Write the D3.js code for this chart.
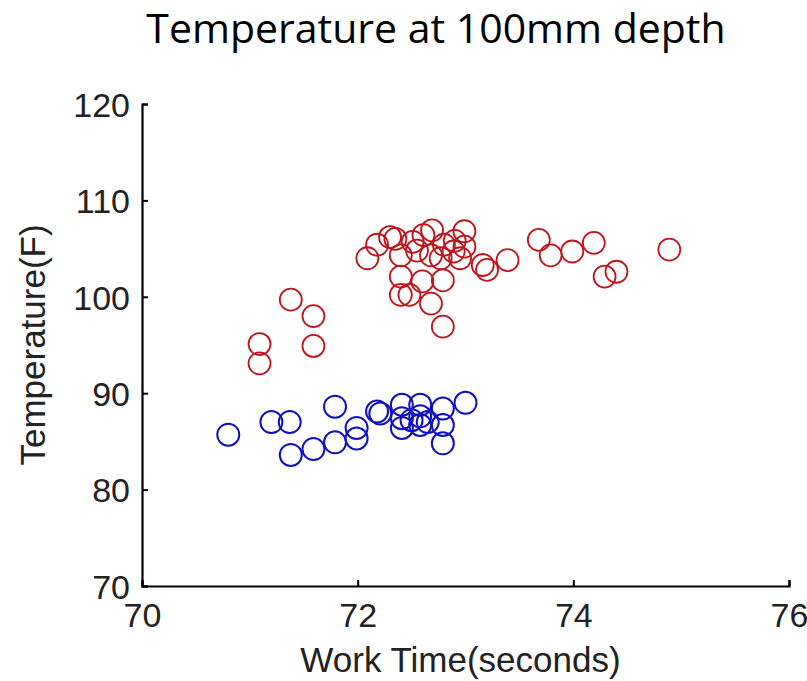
<!DOCTYPE html>
<html>
<head>
<meta charset="utf-8">
<script src="https://cdn.jsdelivr.net/npm/d3@7"></script>
<style>
  html, body { margin: 0; padding: 0; background: #fff; }
  svg { display: block; }
</style>
</head>
<body>
<svg id="chart" width="807" height="681"></svg>
<script>
// Work time (s) vs temperature (F) at 100mm depth, two groups of samples
const redTime = [71.09, 71.09, 71.38, 71.59, 71.59, 72.09, 72.18, 72.30, 72.40, 72.51,
  72.61, 72.69, 72.68, 72.80, 72.89, 72.99, 72.99, 72.77, 73.16, 73.20, 73.39,
  72.40, 72.60, 72.79, 72.40, 72.48, 72.68, 72.79, 73.68, 73.79, 73.99, 74.19,
  74.29, 74.40, 74.89, 72.55, 72.90, 72.95, 72.35];
const redTemp = [95.1, 93.1, 99.7, 98.0, 94.9, 104.0, 105.4, 106.2, 104.3, 105.7,
  106.4, 106.9, 104.3, 105.4, 104.7, 106.8, 105.2, 104.0, 103.3, 102.8, 103.8,
  102.1, 101.6, 101.7, 100.2, 100.2, 99.3, 96.9, 105.9, 104.3, 104.7, 105.6,
  102.1, 102.6, 104.9, 104.8, 105.8, 104.0, 106.0];

const blueTime = [70.80, 71.20, 71.37, 71.79, 71.38, 71.59, 71.79, 71.99, 71.99, 72.18,
  72.21, 72.41, 72.41, 72.41, 72.58, 72.58, 72.58, 72.79, 72.79, 72.79, 73.00,
  72.50, 72.65];
const blueTemp = [85.7, 87.0, 87.0, 88.6, 83.6, 84.2, 84.9, 86.4, 85.3, 88.1,
  87.9, 88.8, 87.4, 86.4, 88.8, 87.6, 86.7, 88.4, 86.7, 84.8, 89.0,
  87.2, 87.0];

const xTicks = [70, 72, 74, 76];
const yTicks = [70, 80, 90, 100, 110, 120];

const svg = d3.select("#chart");
const plotLeft = 142, plotRight = 789, plotTop = 104, plotBottom = 586;

const x = d3.scaleLinear().domain([70, 76]).range([plotLeft, plotRight]);
const y = d3.scaleLinear().domain([70, 120]).range([plotBottom, plotTop]);

const tickFont = "'Liberation Sans Narrow', 'Liberation Sans', Arial, sans-serif";

// title
svg.append("text")
  .attr("x", 436).attr("y", 43)
  .attr("text-anchor", "middle")
  .attr("font-family", "'Open Sans', 'Noto Sans', sans-serif")
  .attr("font-size", 41)
  .attr("fill", "#000")
  .text("Temperature at 100mm depth");

// axes: ticks point into the plot area
const xAxis = d3.axisBottom(x).tickValues(xTicks).tickSize(-6).tickPadding(14).tickFormat(d3.format("d"));
const yAxis = d3.axisLeft(y).tickValues(yTicks).tickSize(-6).tickPadding(12).tickFormat(d3.format("d"));

const gx = svg.append("g").attr("transform", `translate(0,${plotBottom})`).call(xAxis);
const gy = svg.append("g").attr("transform", `translate(${plotLeft},0)`).call(yAxis);

[gx, gy].forEach(g => {
  g.select(".domain").attr("stroke", "#000").attr("stroke-width", 2.2);
  g.selectAll(".tick line").attr("stroke", "#000").attr("stroke-width", 2);
  g.selectAll(".tick text")
    .attr("font-family", tickFont)
    .attr("font-size", 34)
    .attr("fill", "#222");
});
gx.selectAll(".tick text").attr("dy", "0.78em");
gy.selectAll(".tick text").attr("dy", "0.36em");

// axis labels
svg.append("text")
  .attr("x", (plotLeft + plotRight) / 2 - 5).attr("y", 672)
  .attr("text-anchor", "middle")
  .attr("font-family", tickFont)
  .attr("font-size", 35)
  .attr("fill", "#222")
  .text("Work Time(seconds)");

svg.append("text")
  .attr("transform", `translate(45,${(plotTop + plotBottom) / 2}) rotate(-90)`)
  .attr("text-anchor", "middle")
  .attr("font-family", tickFont)
  .attr("font-size", 35)
  .attr("fill", "#222")
  .text("Temperature(F)");

// markers
const r = 11;
svg.append("g").selectAll("circle")
  .data(d3.zip(blueTime, blueTemp))
  .join("circle")
  .attr("cx", d => x(d[0])).attr("cy", d => y(d[1])).attr("r", r)
  .attr("fill", "none").attr("stroke", "#1010c0").attr("stroke-width", 2);

svg.append("g").selectAll("circle")
  .data(d3.zip(redTime, redTemp))
  .join("circle")
  .attr("cx", d => x(d[0])).attr("cy", d => y(d[1])).attr("r", r)
  .attr("fill", "none").attr("stroke", "#c0141e").attr("stroke-width", 1.8);
</script>
</body>
</html>
